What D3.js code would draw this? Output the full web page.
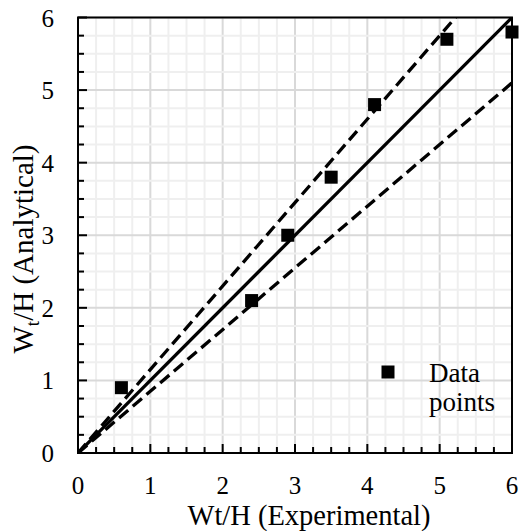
<!DOCTYPE html>
<html>
<head>
<meta charset="utf-8">
<script src="https://cdn.jsdelivr.net/npm/d3@7"></script>
<style>
  body { margin: 0; background: #fff; }
  text { font-family: "Liberation Serif", "Times New Roman", serif; fill: #000; }
</style>
</head>
<body>
<script>
// experimental vs analytical values
var expVals = [0.6, 2.4, 2.9, 3.5, 4.1, 5.1, 6.0];
var anaVals = [0.9, 2.1, 3.0, 3.8, 4.8, 5.7, 5.8];
var tickVals = [0, 1, 2, 3, 4, 5, 6];
// reference lines: y = x and +/- 15%
var lineSlopes = [1, 1.15, 0.85];
var lineDashed = [false, true, true];

var width = 524, height = 531;
var margin = { left: 78, right: 12, top: 17.5, bottom: 78 };

var svg = d3.select("body").append("svg")
    .attr("width", width)
    .attr("height", height);

var x = d3.scaleLinear().domain([0, 6]).range([margin.left, width - margin.right]);
var y = d3.scaleLinear().domain([0, 6]).range([height - margin.bottom, margin.top]);

var minor = d3.range(0, 6.001, 0.25);

// gridlines
svg.append("g").selectAll("line")
    .data(minor)
    .join("line")
    .attr("x1", d => x(d)).attr("x2", d => x(d))
    .attr("y1", y(0)).attr("y2", y(6))
    .attr("stroke", d => d % 1 === 0 ? "#d9d9d9" : "#efefef")
    .attr("stroke-width", 2);

svg.append("g").selectAll("line")
    .data(minor)
    .join("line")
    .attr("y1", d => y(d)).attr("y2", d => y(d))
    .attr("x1", x(0)).attr("x2", x(6))
    .attr("stroke", d => d % 1 === 0 ? "#d9d9d9" : "#efefef")
    .attr("stroke-width", 2);

// clip for the lines
svg.append("clipPath").attr("id", "clip")
    .append("rect")
    .attr("x", x(0)).attr("y", y(6))
    .attr("width", x(6) - x(0)).attr("height", y(0) - y(6));

var line = d3.line().x(d => x(d[0])).y(d => y(d[1]));

svg.append("g").attr("clip-path", "url(#clip)")
    .selectAll("path")
    .data(lineSlopes)
    .join("path")
    .attr("d", k => line([[0, 0], [6, 6 * k]]))
    .attr("fill", "none")
    .attr("stroke", "#000")
    .attr("stroke-width", 3.3)
    .attr("stroke-dasharray", (k, i) => lineDashed[i] ? "12,6" : null);

// frame
svg.append("rect")
    .attr("x", x(0)).attr("y", y(6))
    .attr("width", x(6) - x(0)).attr("height", y(0) - y(6))
    .attr("fill", "none")
    .attr("stroke", "#000")
    .attr("stroke-width", 2);

// ticks inside (left & bottom)
svg.append("g").selectAll("line")
    .data(minor)
    .join("line")
    .attr("x1", x(0)).attr("x2", d => x(0) + (d % 1 === 0 ? 9 : 6))
    .attr("y1", d => y(d)).attr("y2", d => y(d))
    .attr("stroke", "#000").attr("stroke-width", 2);

svg.append("g").selectAll("line")
    .data(minor)
    .join("line")
    .attr("y1", y(0)).attr("y2", d => y(0) - (d % 1 === 0 ? 9 : 6))
    .attr("x1", d => x(d)).attr("x2", d => x(d))
    .attr("stroke", "#000").attr("stroke-width", 2);

// tick labels
svg.append("g").selectAll("text")
    .data(tickVals)
    .join("text")
    .attr("x", d => x(d))
    .attr("y", 494)
    .attr("text-anchor", "middle")
    .style("font-size", "25px")
    .text(d => d);

svg.append("g").selectAll("text")
    .data(tickVals)
    .join("text")
    .attr("x", 54)
    .attr("y", d => y(d) + 9)
    .attr("text-anchor", "end")
    .style("font-size", "25px")
    .text(d => d);

// axis titles
svg.append("text")
    .attr("x", 309)
    .attr("y", 525)
    .attr("text-anchor", "middle")
    .style("font-size", "28.5px")
    .text("Wt/H (Experimental)");

var yt = svg.append("text")
    .attr("transform", "translate(33,249) rotate(-90)")
    .attr("text-anchor", "middle")
    .style("font-size", "29px");
yt.append("tspan").text("W");
yt.append("tspan").attr("dy", 6).style("font-size", "19px").text("t");
yt.append("tspan").attr("dy", -6).text("/H (Analytical)");

// data points
var sz = 13;
svg.append("g").selectAll("rect")
    .data(expVals)
    .join("rect")
    .attr("x", d => x(d) - sz / 2)
    .attr("y", (d, i) => y(anaVals[i]) - sz / 2)
    .attr("width", sz).attr("height", sz)
    .attr("fill", "#000");

// legend
svg.append("rect")
    .attr("x", 388 - sz / 2).attr("y", 372 - sz / 2)
    .attr("width", sz).attr("height", sz)
    .attr("fill", "#000");
svg.append("text").attr("x", 429).attr("y", 382)
    .style("font-size", "27px").text("Data");
svg.append("text").attr("x", 429).attr("y", 411)
    .style("font-size", "27px").text("points");
</script>
</body>
</html>
